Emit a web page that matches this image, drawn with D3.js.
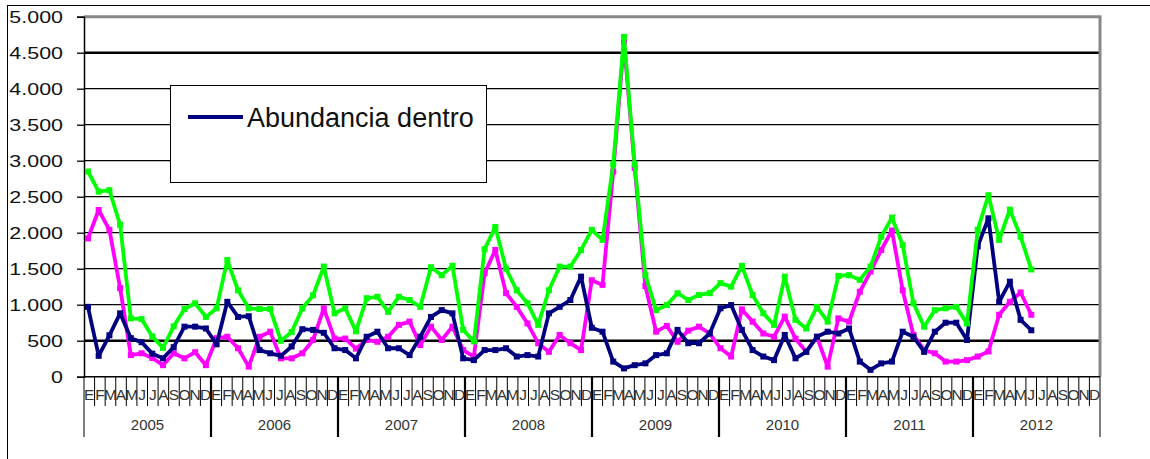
<!DOCTYPE html>
<html>
<head>
  <meta charset="utf-8">
  <script src="https://d3js.org/d3.v7.min.js"></script>
  <style>
    body { margin: 0; background-color: #fff; }
    text { font-family: "Liberation Sans", Arial, sans-serif; }
  </style>
</head>
<body>
<script>
var width = 1150;
var height = 459;

// etiquetas del eje
var meses = ["E", "F", "M", "A", "M", "J", "J", "A", "S", "O", "N", "D"];
var anios = [2005, 2006, 2007, 2008, 2009, 2010, 2011, 2012];
var yTicks = [0, 500, 1000, 1500, 2000, 2500, 3000, 3500, 4000, 4500, 5000];

// series mensuales desde enero 2005
var dentro = [
  970, 290, 575, 880, 535, 480, 320, 255, 410, 695, 695, 670,
  450, 1040, 830, 840, 370, 325, 290, 420, 660, 650, 610, 395,
  370, 255, 555, 625, 395, 395, 300, 555, 830, 925, 880, 255,
  230, 370, 370, 395, 280, 300, 280, 880, 970, 1065, 1390, 680,
  625, 210, 115, 160, 185, 300, 325, 650, 465, 465, 600, 950,
  995, 650, 370, 280, 230, 580, 255, 345, 555, 625, 600, 670,
  210, 95, 185, 210, 625, 555, 345, 625, 750, 750, 510, 1810,
  2200, 1040, 1320, 790, 645
];
var verde = [
  2850, 2570, 2590, 2110, 810, 800, 560, 400, 700, 940, 1020, 830,
  950, 1620, 1200, 950, 940, 940, 500, 620, 950, 1130, 1530, 880,
  950, 630, 1090, 1110, 900, 1110, 1065, 970, 1520, 1410, 1540, 650,
  490, 1770, 2080, 1500, 1200, 1020, 720, 1200, 1530, 1530, 1760, 2040,
  1900, 2950, 4720, 2950, 1410, 925, 995, 1160, 1065, 1135, 1160, 1300,
  1250, 1540, 1135, 880, 720, 1390, 790, 670, 970, 765, 1400, 1410,
  1345, 1530, 1945, 2210, 1830, 1020, 695, 925, 950, 970, 740, 2040,
  2520, 1900, 2320, 1945, 1490
];
var rosa = [
  1920, 2315, 2040, 1230, 300, 325, 260, 160, 325, 255, 340, 160,
  535, 555, 395, 140, 555, 625, 255, 255, 325, 510, 950, 530,
  530, 390, 510, 485, 555, 720, 765, 440, 695, 510, 695, 370,
  280, 1435, 1760, 1160, 970, 740, 465, 345, 580, 465, 370, 1340,
  1275, 2850, 4650, 2900, 1260, 625, 705, 485, 640, 695, 600, 395,
  280, 935, 765, 600, 555, 835, 530, 345, 555, 140, 810, 765,
  1180, 1460, 1760, 2030, 1200, 580, 370, 325, 210, 210, 230, 280,
  350, 860, 1040, 1170, 860
];

var plotLeft = 84, plotRight = 1100, plotTop = 16.7, plotBottom = 376.7;

var categorias = d3.range(anios.length * 12);

// escala del eje de categorias
var xEje = d3.scaleBand()
    .domain(categorias)
    .range([plotLeft, plotRight]);

// escala de los puntos de las series
var x = d3.scaleBand()
    .domain(categorias)
    .range([82.6, 82.6 + 10.72 * categorias.length]);

var y = d3.scaleLinear()
    .domain([0, 5000])
    .range([plotBottom, plotTop]);

var es = d3.formatLocale({decimal: ",", thousands: ".", grouping: [3], currency: ["", " €"]});
var fmt = es.format(",");

var svg = d3.select("body")
    .append("svg")
    .attr("width", width)
    .attr("height", height);

svg.append("defs").append("clipPath")
    .attr("id", "recorte")
    .append("rect")
    .attr("x", plotLeft)
    .attr("y", 0)
    .attr("width", plotRight - plotLeft)
    .attr("height", height);

// marco exterior
svg.append("rect")
    .attr("x", 7.5).attr("y", 5.5)
    .attr("width", 1200).attr("height", 600)
    .style("fill", "none")
    .style("stroke", "#000")
    .style("stroke-width", 1);

// lineas de division
svg.append("g")
    .selectAll("line")
    .data(yTicks.filter(function(d) { return d > 0 && d < 5000; }))
    .enter()
    .append("line")
    .attr("x1", plotLeft).attr("x2", plotRight)
    .attr("y1", function(d) { return y(d); })
    .attr("y2", function(d) { return y(d); })
    .style("stroke", "#000")
    .style("stroke-width", function(d) { return (d == 4500 || d == 500) ? 2.4 : 1.3; });

// borde gris del area de trazado
svg.append("path")
    .attr("d", "M" + plotLeft + "," + y(5000) + "H" + plotRight + "V" + plotBottom)
    .style("fill", "none")
    .style("stroke", "#888")
    .style("stroke-width", 3);

// eje vertical
var yAxis = svg.append("g")
    .attr("transform", "translate(" + plotLeft + ",0)")
    .call(d3.axisLeft(y).tickValues(yTicks).tickSize(7).tickPadding(0).tickFormat(fmt));
yAxis.select(".domain").attr("stroke", "#000").attr("stroke-width", 1.5);
yAxis.selectAll(".tick line").attr("stroke", "#000").attr("stroke-width", 1.3);
yAxis.selectAll(".tick text")
    .attr("x", 0)
    .attr("dy", "0.34em")
    .attr("transform", "translate(-21,0) scale(1.3,1)")
    .style("font-size", "16.5px")
    .style("fill", "#111");

// eje de categorias
var ejeX = svg.append("g").attr("clip-path", "url(#recorte)");

ejeX.append("line")
    .attr("x1", plotLeft).attr("x2", plotRight)
    .attr("y1", plotBottom).attr("y2", plotBottom)
    .style("stroke", "#000").style("stroke-width", 1.5);

ejeX.selectAll("line.mes")
    .data(categorias.filter(function(d) { return d % 12 != 0; }))
    .enter()
    .append("line")
    .attr("class", "mes")
    .attr("x1", function(d) { return xEje(d); })
    .attr("x2", function(d) { return xEje(d); })
    .attr("y1", plotBottom).attr("y2", 406)
    .style("stroke", "#000").style("stroke-width", 1);

ejeX.selectAll("line.anio")
    .data(anios.slice(1))
    .enter()
    .append("line")
    .attr("class", "anio")
    .attr("x1", function(d, i) { return xEje((i + 1) * 12); })
    .attr("x2", function(d, i) { return xEje((i + 1) * 12); })
    .attr("y1", plotBottom).attr("y2", 437)
    .style("stroke", "#000").style("stroke-width", 2.2);

ejeX.selectAll("text.mes")
    .data(categorias)
    .enter()
    .append("text")
    .attr("class", "mes")
    .attr("x", function(d) { return xEje(d) + xEje.bandwidth() / 2; })
    .attr("y", 400)
    .attr("text-anchor", "middle")
    .style("font-size", "15.5px")
    .style("fill", "#333")
    .text(function(d) { return meses[d % 12]; });

ejeX.selectAll("text.anio")
    .data(anios)
    .enter()
    .append("text")
    .attr("class", "anio")
    .attr("x", function(d, i) { return xEje(i * 12) + 6 * xEje.step(); })
    .attr("y", 430)
    .attr("text-anchor", "middle")
    .style("font-size", "15px")
    .style("fill", "#333")
    .text(function(d) { return d; });

[plotLeft, plotRight].forEach(function(px) {
  svg.append("line")
      .attr("x1", px).attr("x2", px)
      .attr("y1", plotBottom).attr("y2", 437)
      .style("stroke", "#000").style("stroke-width", 1);
});

// series
var series = [
  {name: "rosa", values: rosa, color: "#ff00ff"},
  {name: "Abundancia dentro", values: dentro, color: "#000080"},
  {name: "verde", values: verde, color: "#00ff00"}
];

var linea = d3.line()
    .x(function(d, i) { return x(i) + x.bandwidth() / 2; })
    .y(function(d) { return y(d); });

series.forEach(function(s) {
  var g = svg.append("g");
  g.append("path")
      .datum(s.values)
      .attr("d", linea)
      .style("fill", "none")
      .style("stroke", s.color)
      .style("stroke-width", 3.8)
      .style("stroke-linejoin", "round");
  g.selectAll("rect")
      .data(s.values)
      .enter()
      .append("rect")
      .attr("x", function(d, i) { return x(i) + x.bandwidth() / 2 - 3; })
      .attr("y", function(d) { return y(d) - 3; })
      .attr("width", 6).attr("height", 6)
      .style("fill", s.color);
});

// leyenda
var leyenda = svg.append("g");
leyenda.append("rect")
    .attr("x", 170.5).attr("y", 85.5)
    .attr("width", 316).attr("height", 97)
    .style("fill", "#fff")
    .style("stroke", "#000")
    .style("stroke-width", 1);
leyenda.append("line")
    .attr("x1", 188).attr("x2", 243)
    .attr("y1", 117).attr("y2", 117)
    .style("stroke", "#000080")
    .style("stroke-width", 4);
leyenda.append("text")
    .attr("x", 247).attr("y", 127)
    .style("font-size", "27px")
    .style("fill", "#111")
    .text("Abundancia dentro");
</script>
</body>
</html>
